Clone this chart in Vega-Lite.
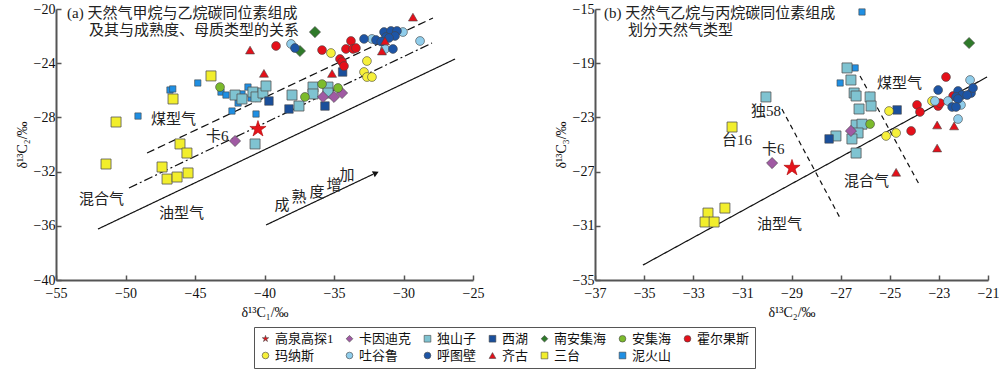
{
"$schema": "https://vega.github.io/schema/vega-lite/v6.json",
"padding": {"left": 15, "top": 2, "right": 0, "bottom": 0},
"background": "white",
"config": {
  "font": "Liberation Serif, Noto Sans CJK SC",
  "view": {"stroke": null},
  "axis": {"grid": false, "labelFlush": false, "domainColor": "#555", "domainWidth": 2, "tickColor": "#555", "tickWidth": 1.5, "tickSize": -5, "labelFont": "Liberation Serif", "labelFontSize": 14, "labelColor": "#111", "titleFont": "Liberation Serif", "titleFontSize": 14, "titleFontWeight": "normal", "titleColor": "#111", "labelPadding": 6, "titlePadding": 4},
  "axisX": {"labelPadding": 11, "titlePadding": 5},
  "legend": {"orient": "none", "legendX": 198, "legendY": 318, "direction": "horizontal", "columns": 7, "labelFont": "Liberation Serif, Noto Sans CJK SC", "labelFontSize": 13, "labelColor": "#111", "symbolSize": 45, "symbolStrokeColor": "#444", "symbolStrokeWidth": 0.6, "strokeColor": "#555", "padding": 5, "columnPadding": 9, "rowPadding": 3, "labelOffset": 3, "gridAlign": "each"}
},
"datasets": {
  "linesA": [
    {"x": -51.98, "y": -36.24, "x2": -26.29, "y2": -23.69, "style": "solid"},
    {"x": -49.75, "y": -33.21, "x2": -27.95, "y2": -22.51, "style": "dashdot"},
    {"x": -48.45, "y": -30.63, "x2": -27.88, "y2": -20.66, "style": "dash"},
    {"x": -39.89, "y": -35.94, "x2": -32.2, "y2": -32.2, "style": "solid"}
  ],
  "arrowA": [{"x": -31.98, "y": -32.1}],
  "linesB": [
    {"x": -35.05, "y": -33.9, "x2": -21.04, "y2": -20.02, "style": "solid"},
    {"x": -29.39, "y": -22.38, "x2": -26.98, "y2": -30.57, "style": "dash2"},
    {"x": -26.21, "y": -19.94, "x2": -23.81, "y2": -27.92, "style": "dash2"}
  ],
  "textA": [
    {"x": -54.21, "y": -20.3, "t": "(a) 天然气甲烷与乙烷碳同位素组成"},
    {"x": -52.63, "y": -21.55, "t": "及其与成熟度、母质类型的关系"},
    {"x": -48.17, "y": -28.12, "t": "煤型气"},
    {"x": -44.21, "y": -29.37, "t": "卡6"},
    {"x": -53.35, "y": -34.02, "t": "混合气"},
    {"x": -47.59, "y": -35.06, "t": "油型气"},
    {"x": -39.28, "y": -34.46, "t": "成"},
    {"x": -38.06, "y": -33.87, "t": "熟"},
    {"x": -36.76, "y": -33.5, "t": "度"},
    {"x": -35.54, "y": -32.99, "t": "增"},
    {"x": -34.6, "y": -32.25, "t": "加"}
  ],
  "textB": [
    {"x": -36.63, "y": -15.3, "t": "(b) 天然气乙烷与丙烷碳同位素组成"},
    {"x": -35.66, "y": -16.55, "t": "划分天然气类型"},
    {"x": -25.52, "y": -20.46, "t": "煤型气"},
    {"x": -30.65, "y": -22.53, "t": "独58"},
    {"x": -31.83, "y": -24.67, "t": "台16"},
    {"x": -30.2, "y": -25.33, "t": "卡6"},
    {"x": -26.86, "y": -27.69, "t": "混合气"},
    {"x": -30.4, "y": -30.87, "t": "油型气"}
  ],
  "ptsA": [
    {"s": "三台", "x": -43.85, "y": -24.94}, {"s": "三台", "x": -46.58, "y": -26.64}, {"s": "三台", "x": -50.68, "y": -28.34}, {"s": "三台", "x": -46.08, "y": -29.96}, {"s": "三台", "x": -45.58, "y": -30.63}, {"s": "三台", "x": -51.4, "y": -31.44}, {"s": "三台", "x": -47.37, "y": -31.66}, {"s": "三台", "x": -47.01, "y": -32.55}, {"s": "三台", "x": -46.29, "y": -32.4}, {"s": "三台", "x": -45.5, "y": -32.1},
    {"s": "泥火山", "x": -44.8, "y": -25.46}, {"s": "泥火山", "x": -46.8, "y": -25.98}, {"s": "泥火山", "x": -46.6, "y": -25.9}, {"s": "泥火山", "x": -49.1, "y": -27.9}, {"s": "泥火山", "x": -43.13, "y": -26.13}, {"s": "泥火山", "x": -42.77, "y": -26.35}, {"s": "泥火山", "x": -41.62, "y": -26.27}, {"s": "泥火山", "x": -41.19, "y": -25.76}, {"s": "泥火山", "x": -40.97, "y": -26.57}, {"s": "泥火山", "x": -41.9, "y": -26.94}, {"s": "泥火山", "x": -42.34, "y": -27.53}, {"s": "泥火山", "x": -40.61, "y": -27.75},
    {"s": "独山子", "x": -42.12, "y": -26.35}, {"s": "独山子", "x": -41.62, "y": -26.64}, {"s": "独山子", "x": -40.83, "y": -26.13}, {"s": "独山子", "x": -40.61, "y": -26.49}, {"s": "独山子", "x": -40.11, "y": -26.2}, {"s": "独山子", "x": -39.89, "y": -25.68}, {"s": "独山子", "x": -40.68, "y": -29.96}, {"s": "独山子", "x": -38.02, "y": -26.35}, {"s": "独山子", "x": -37.52, "y": -27.16}, {"s": "独山子", "x": -36.51, "y": -25.76}, {"s": "独山子", "x": -36.51, "y": -26.27}, {"s": "独山子", "x": -35.43, "y": -25.76}, {"s": "独山子", "x": -35.43, "y": -26.2},
    {"s": "西湖", "x": -39.68, "y": -26.79}, {"s": "西湖", "x": -38.24, "y": -27.38}, {"s": "西湖", "x": -35.65, "y": -27.16}, {"s": "西湖", "x": -34.38, "y": -24.65},
    {"s": "卡因迪克", "x": -42.12, "y": -29.74}, {"s": "卡因迪克", "x": -35.79, "y": -26.49}, {"s": "卡因迪克", "x": -35.0, "y": -26.49}, {"s": "卡因迪克", "x": -34.42, "y": -26.2},
    {"s": "南安集海", "x": -36.37, "y": -21.7}, {"s": "南安集海", "x": -37.45, "y": -23.1},
    {"s": "安集海", "x": -43.2, "y": -25.76}, {"s": "安集海", "x": -37.09, "y": -26.49}, {"s": "安集海", "x": -35.86, "y": -25.54}, {"s": "安集海", "x": -34.71, "y": -25.83},
    {"s": "霍尔果斯", "x": -39.17, "y": -22.73}, {"s": "霍尔果斯", "x": -35.86, "y": -23.03}, {"s": "霍尔果斯", "x": -34.14, "y": -22.95}, {"s": "霍尔果斯", "x": -33.78, "y": -22.36}, {"s": "霍尔果斯", "x": -33.63, "y": -22.95}, {"s": "霍尔果斯", "x": -33.42, "y": -22.88}, {"s": "霍尔果斯", "x": -34.57, "y": -23.69}, {"s": "霍尔果斯", "x": -34.42, "y": -23.91}, {"s": "霍尔果斯", "x": -34.28, "y": -24.21},
    {"s": "玛纳斯", "x": -35.22, "y": -23.25}, {"s": "玛纳斯", "x": -32.63, "y": -23.84}, {"s": "玛纳斯", "x": -32.84, "y": -24.65}, {"s": "玛纳斯", "x": -32.63, "y": -25.02}, {"s": "玛纳斯", "x": -32.27, "y": -25.02},
    {"s": "吐谷鲁", "x": -38.09, "y": -22.58}, {"s": "吐谷鲁", "x": -32.27, "y": -22.21}, {"s": "吐谷鲁", "x": -30.04, "y": -21.7}, {"s": "吐谷鲁", "x": -31.33, "y": -22.95}, {"s": "吐谷鲁", "x": -28.81, "y": -22.36},
    {"s": "呼图壁", "x": -37.81, "y": -22.88}, {"s": "呼图壁", "x": -31.4, "y": -21.7}, {"s": "呼图壁", "x": -30.9, "y": -21.62}, {"s": "呼图壁", "x": -30.47, "y": -21.62}, {"s": "呼图壁", "x": -32.84, "y": -22.21}, {"s": "呼图壁", "x": -31.98, "y": -22.29}, {"s": "呼图壁", "x": -31.26, "y": -22.07}, {"s": "呼图壁", "x": -30.61, "y": -21.99}, {"s": "呼图壁", "x": -31.04, "y": -22.14}, {"s": "呼图壁", "x": -30.76, "y": -22.95}, {"s": "呼图壁", "x": -31.6, "y": -22.4},
    {"s": "齐古", "x": -29.32, "y": -20.6}, {"s": "齐古", "x": -40.04, "y": -24.75}, {"s": "齐古", "x": -41.04, "y": -23.03}, {"s": "齐古", "x": -35.14, "y": -24.76}, {"s": "齐古", "x": -31.33, "y": -22.36}, {"s": "齐古", "x": -31.55, "y": -23.1},
    {"s": "高泉高探1", "x": -40.47, "y": -28.86}
  ],
  "ptsB": [
    {"s": "独山子", "x": -26.74, "y": -19.35}, {"s": "独山子", "x": -26.58, "y": -20.24}, {"s": "独山子", "x": -26.45, "y": -21.2}, {"s": "独山子", "x": -26.37, "y": -21.42}, {"s": "独山子", "x": -25.8, "y": -21.49}, {"s": "独山子", "x": -25.76, "y": -22.16}, {"s": "独山子", "x": -26.25, "y": -22.38}, {"s": "独山子", "x": -30.04, "y": -21.49}, {"s": "独山子", "x": -26.37, "y": -23.56}, {"s": "独山子", "x": -26.13, "y": -23.5}, {"s": "独山子", "x": -26.29, "y": -24.15}, {"s": "独山子", "x": -26.54, "y": -24.59}, {"s": "独山子", "x": -27.19, "y": -24.37}, {"s": "独山子", "x": -26.37, "y": -25.63},
    {"s": "泥火山", "x": -26.13, "y": -15.22}, {"s": "泥火山", "x": -26.41, "y": -19.35}, {"s": "泥火山", "x": -27.02, "y": -20.46},
    {"s": "南安集海", "x": -21.77, "y": -17.51},
    {"s": "西湖", "x": -24.7, "y": -22.45}, {"s": "西湖", "x": -27.47, "y": -24.59},
    {"s": "玛纳斯", "x": -25.03, "y": -22.53}, {"s": "玛纳斯", "x": -25.15, "y": -24.37}, {"s": "玛纳斯", "x": -24.74, "y": -24.15}, {"s": "玛纳斯", "x": -23.28, "y": -21.79},
    {"s": "安集海", "x": -25.8, "y": -23.49},
    {"s": "卡因迪克", "x": -26.58, "y": -24.0}, {"s": "卡因迪克", "x": -29.79, "y": -26.37},
    {"s": "高泉高探1", "x": -28.98, "y": -26.73},
    {"s": "霍尔果斯", "x": -24.13, "y": -24.0}, {"s": "霍尔果斯", "x": -22.71, "y": -20.02}, {"s": "霍尔果斯", "x": -23.89, "y": -22.08}, {"s": "霍尔果斯", "x": -23.77, "y": -22.6}, {"s": "霍尔果斯", "x": -23.03, "y": -22.16}, {"s": "霍尔果斯", "x": -22.95, "y": -21.95}, {"s": "霍尔果斯", "x": -22.42, "y": -21.42},
    {"s": "齐古", "x": -24.74, "y": -27.05}, {"s": "齐古", "x": -23.07, "y": -23.56}, {"s": "齐古", "x": -23.07, "y": -25.26}, {"s": "齐古", "x": -22.38, "y": -23.63},
    {"s": "吐谷鲁", "x": -23.16, "y": -21.79}, {"s": "吐谷鲁", "x": -22.63, "y": -21.79}, {"s": "吐谷鲁", "x": -21.73, "y": -20.24}, {"s": "吐谷鲁", "x": -22.1, "y": -22.08}, {"s": "吐谷鲁", "x": -22.22, "y": -23.12},
    {"s": "呼图壁", "x": -23.03, "y": -20.98}, {"s": "呼图壁", "x": -22.22, "y": -21.05}, {"s": "呼图壁", "x": -22.06, "y": -21.35}, {"s": "呼图壁", "x": -22.3, "y": -21.49}, {"s": "呼图壁", "x": -22.22, "y": -21.64}, {"s": "呼图壁", "x": -21.69, "y": -21.2}, {"s": "呼图壁", "x": -21.61, "y": -20.83}, {"s": "呼图壁", "x": -22.46, "y": -22.23}, {"s": "呼图壁", "x": -22.3, "y": -22.23}, {"s": "呼图壁", "x": -21.85, "y": -21.35},
    {"s": "三台", "x": -31.42, "y": -23.71}, {"s": "三台", "x": -32.4, "y": -30.06}, {"s": "三台", "x": -32.52, "y": -30.72}, {"s": "三台", "x": -32.15, "y": -30.72}, {"s": "三台", "x": -31.71, "y": -29.69}
  ]
},
"spacing": 122,
"bounds": "flush",
"resolve": {"scale": {"color": "shared", "shape": "shared", "strokeDash": "shared"}},
"hconcat": [
  {
    "width": 417, "height": 271,
    "encoding": {
      "x": {"field": "x", "type": "quantitative", "title": "δ¹³C₁/‰", "scale": {"domain": [-55, -25], "nice": false, "zero": false}, "axis": {"values": [-55, -50, -45, -40, -35, -30, -25]}},
      "y": {"field": "y", "type": "quantitative", "title": "δ¹³C₂/‰", "scale": {"domain": [-40, -20], "nice": false, "zero": false}, "axis": {"values": [-40, -36, -32, -28, -24, -20]}}
    },
    "layer": [
      {"data": {"name": "linesA"}, "mark": {"type": "rule", "color": "#111", "strokeWidth": 1.2},
       "encoding": {"x2": {"field": "x2"}, "y2": {"field": "y2"},
         "strokeDash": {"field": "style", "type": "nominal", "scale": {"domain": ["solid", "dash", "dashdot", "dash2"], "range": [[1, 0], [8, 4], [9, 3, 2, 3], [5, 4]]}, "legend": null}}},
      {"data": {"name": "arrowA"}, "mark": {"type": "point", "shape": "triangle-right", "filled": true, "color": "#111", "size": 45, "angle": 335, "opacity": 1}},
      {"data": {"name": "ptsA"},
       "encoding": {
         "color": {"field": "s", "type": "nominal", "scale": {"domain": ["高泉高探1", "卡因迪克", "独山子", "西湖", "南安集海", "安集海", "霍尔果斯", "玛纳斯", "吐谷鲁", "呼图壁", "齐古", "三台", "泥火山"], "range": ["#e5141b", "#a05aa3", "#7fc3d1", "#1a4f9b", "#2f7a2a", "#7cbb2c", "#e5101a", "#f6f03a", "#90cdeb", "#1d55a6", "#e5101a", "#f2ee2c", "#1f8fe3"]}, "legend": {"title": null}},
         "shape": {"field": "s", "type": "nominal", "scale": {"domain": ["高泉高探1", "卡因迪克", "独山子", "西湖", "南安集海", "安集海", "霍尔果斯", "玛纳斯", "吐谷鲁", "呼图壁", "齐古", "三台", "泥火山"], "range": ["M0,-1L0.2245,-0.309L0.951,-0.309L0.363,0.118L0.588,0.809L0,0.382L-0.588,0.809L-0.363,0.118L-0.951,-0.309L-0.2245,-0.309Z", "diamond", "square", "square", "diamond", "circle", "circle", "circle", "circle", "circle", "triangle-up", "square", "square"]}, "legend": {"title": null}}
       },
       "layer": [
         {"transform": [{"filter": {"field": "s", "oneOf": ["泥火山"]}}], "mark": {"type": "point", "filled": true, "stroke": "#444", "strokeWidth": 0.6, "opacity": 1, "size": 40}},
         {"transform": [{"filter": {"field": "s", "oneOf": ["独山子", "三台"]}}], "mark": {"type": "point", "filled": true, "stroke": "#555", "strokeWidth": 0.8, "opacity": 1, "size": 100}},
         {"transform": [{"filter": {"field": "s", "oneOf": ["西湖"]}}], "mark": {"type": "point", "filled": true, "stroke": "#444", "strokeWidth": 0.6, "opacity": 1, "size": 72}},
         {"transform": [{"filter": {"field": "s", "oneOf": ["卡因迪克", "南安集海"]}}], "mark": {"type": "point", "filled": true, "stroke": "#444", "strokeWidth": 0.6, "opacity": 1, "size": 125}},
         {"transform": [{"filter": {"field": "s", "oneOf": ["安集海", "霍尔果斯", "玛纳斯", "吐谷鲁", "呼图壁"]}}], "mark": {"type": "point", "filled": true, "stroke": "#444", "strokeWidth": 0.6, "opacity": 1, "size": 78}},
         {"transform": [{"filter": {"field": "s", "oneOf": ["齐古"]}}], "mark": {"type": "point", "filled": true, "stroke": "#444", "strokeWidth": 0.6, "opacity": 1, "size": 80}},
         {"transform": [{"filter": {"field": "s", "oneOf": ["高泉高探1"]}}], "mark": {"type": "point", "filled": true, "stroke": "#a00", "strokeWidth": 0.6, "opacity": 1, "size": 290}}
       ]},
      {"data": {"name": "textA"}, "mark": {"type": "text", "align": "left", "baseline": "middle", "fontSize": 15, "color": "#222", "font": "Liberation Serif, Noto Sans CJK SC"},
       "encoding": {"text": {"field": "t"}}}
    ]
  },
  {
    "width": 393, "height": 271,
    "encoding": {
      "x": {"field": "x", "type": "quantitative", "title": "δ¹³C₂/‰", "scale": {"domain": [-37, -21], "nice": false, "zero": false}, "axis": {"values": [-37, -35, -33, -31, -29, -27, -25, -23, -21]}},
      "y": {"field": "y", "type": "quantitative", "title": "δ¹³C₃/‰", "scale": {"domain": [-35, -15], "nice": false, "zero": false}, "axis": {"values": [-35, -31, -27, -23, -19, -15]}}
    },
    "layer": [
      {"data": {"name": "linesB"}, "mark": {"type": "rule", "color": "#111", "strokeWidth": 1.2},
       "encoding": {"x2": {"field": "x2"}, "y2": {"field": "y2"},
         "strokeDash": {"field": "style", "type": "nominal", "scale": {"domain": ["solid", "dash", "dashdot", "dash2"], "range": [[1, 0], [8, 4], [9, 3, 2, 3], [5, 4]]}, "legend": null}}},
      {"data": {"name": "ptsB"},
       "encoding": {
         "color": {"field": "s", "type": "nominal", "scale": {"domain": ["高泉高探1", "卡因迪克", "独山子", "西湖", "南安集海", "安集海", "霍尔果斯", "玛纳斯", "吐谷鲁", "呼图壁", "齐古", "三台", "泥火山"], "range": ["#e5141b", "#a05aa3", "#7fc3d1", "#1a4f9b", "#2f7a2a", "#7cbb2c", "#e5101a", "#f6f03a", "#90cdeb", "#1d55a6", "#e5101a", "#f2ee2c", "#1f8fe3"]}, "legend": {"title": null}},
         "shape": {"field": "s", "type": "nominal", "scale": {"domain": ["高泉高探1", "卡因迪克", "独山子", "西湖", "南安集海", "安集海", "霍尔果斯", "玛纳斯", "吐谷鲁", "呼图壁", "齐古", "三台", "泥火山"], "range": ["M0,-1L0.2245,-0.309L0.951,-0.309L0.363,0.118L0.588,0.809L0,0.382L-0.588,0.809L-0.363,0.118L-0.951,-0.309L-0.2245,-0.309Z", "diamond", "square", "square", "diamond", "circle", "circle", "circle", "circle", "circle", "triangle-up", "square", "square"]}, "legend": {"title": null}}
       },
       "layer": [
         {"transform": [{"filter": {"field": "s", "oneOf": ["泥火山"]}}], "mark": {"type": "point", "filled": true, "stroke": "#444", "strokeWidth": 0.6, "opacity": 1, "size": 40}},
         {"transform": [{"filter": {"field": "s", "oneOf": ["独山子", "三台"]}}], "mark": {"type": "point", "filled": true, "stroke": "#555", "strokeWidth": 0.8, "opacity": 1, "size": 100}},
         {"transform": [{"filter": {"field": "s", "oneOf": ["西湖"]}}], "mark": {"type": "point", "filled": true, "stroke": "#444", "strokeWidth": 0.6, "opacity": 1, "size": 72}},
         {"transform": [{"filter": {"field": "s", "oneOf": ["卡因迪克", "南安集海"]}}], "mark": {"type": "point", "filled": true, "stroke": "#444", "strokeWidth": 0.6, "opacity": 1, "size": 125}},
         {"transform": [{"filter": {"field": "s", "oneOf": ["安集海", "霍尔果斯", "玛纳斯", "吐谷鲁", "呼图壁"]}}], "mark": {"type": "point", "filled": true, "stroke": "#444", "strokeWidth": 0.6, "opacity": 1, "size": 78}},
         {"transform": [{"filter": {"field": "s", "oneOf": ["齐古"]}}], "mark": {"type": "point", "filled": true, "stroke": "#444", "strokeWidth": 0.6, "opacity": 1, "size": 80}},
         {"transform": [{"filter": {"field": "s", "oneOf": ["高泉高探1"]}}], "mark": {"type": "point", "filled": true, "stroke": "#a00", "strokeWidth": 0.6, "opacity": 1, "size": 290}}
       ]},
      {"data": {"name": "textB"}, "mark": {"type": "text", "align": "left", "baseline": "middle", "fontSize": 15, "color": "#222", "font": "Liberation Serif, Noto Sans CJK SC"},
       "encoding": {"text": {"field": "t"}}}
    ]
  }
]
}
